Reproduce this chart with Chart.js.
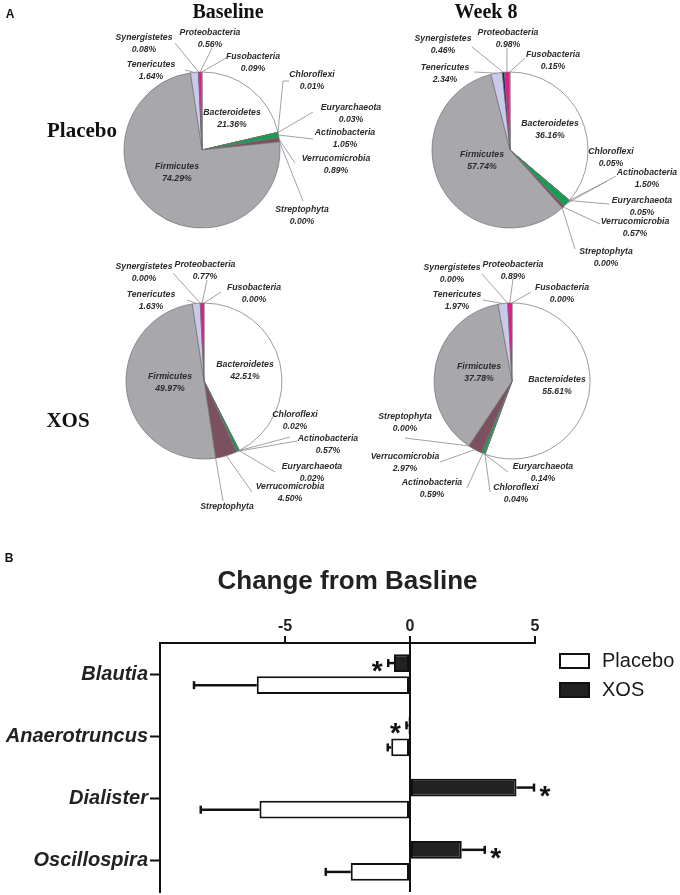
<!DOCTYPE html>
<html><head><meta charset="utf-8">
<script src="https://cdn.jsdelivr.net/npm/chart.js@4.4.1/dist/chart.umd.min.js"></script>
<style>
html,body{margin:0;padding:0;background:#fff;}
#wrap{position:relative;width:680px;height:895px;overflow:hidden;background:#fff;}
canvas{position:absolute;left:0;top:0;}
.t{position:absolute;transform:translate(-50%,-50%);line-height:1;white-space:nowrap;color:#111;}
.serif{font-family:"Liberation Serif","Times New Roman",serif;font-weight:bold;}
.sans{font-family:"Liberation Sans",Arial,sans-serif;font-weight:bold;}
</style></head><body>
<div id="wrap">
<canvas id="pb" width="680" height="895"></canvas>
<canvas id="pw" width="680" height="895"></canvas>
<canvas id="xb" width="680" height="895"></canvas>
<canvas id="xw" width="680" height="895"></canvas>
<canvas id="bar" width="680" height="895"></canvas>
<div class="t sans" style="left:10px;top:14px;font-size:12px">A</div>
<div class="t serif" style="left:228px;top:11px;font-size:20px">Baseline</div>
<div class="t serif" style="left:486px;top:11px;font-size:20px">Week 8</div>
<div class="t serif" style="left:82px;top:130px;font-size:21px">Placebo</div>
<div class="t serif" style="left:68px;top:420px;font-size:21px">XOS</div>
<div class="t sans" style="left:9px;top:558px;font-size:12px">B</div>
</div>
<script>
// ---------- data ----------
const phyla = ['Bacteroidetes','Chloroflexi','Euryarchaeota','Actinobacteria','Verrucomicrobia','Streptophyta','Firmicutes','Tenericutes','Synergistetes','Proteobacteria','Fusobacteria'];
const placeboBaseline = [21.36,0.01,0.03,1.05,0.89,0.00,74.29,1.64,0.08,0.56,0.09];
const placeboWeek8    = [36.16,0.05,0.05,1.50,0.57,0.00,57.74,2.34,0.46,0.98,0.15];
const xosBaseline     = [42.51,0.02,0.02,0.57,4.50,0.00,49.97,1.63,0.00,0.77,0.00];
const xosWeek8        = [55.61,0.04,0.14,0.59,2.97,0.00,37.78,1.97,0.00,0.89,0.00];

const genera = ['Blautia','Anaerotruncus','Dialister','Oscillospira'];
const placeboChange = [-6.13,-0.75,-6.02,-2.37];
const placeboSEM    = [2.51,0.14,2.35,1.00];
const xosChange     = [-0.64,-0.06,4.26,2.07];
const xosSEM        = [0.23,0.08,0.70,0.92];
const xosSignificant     = [true,true,true,true];
const placeboSignificant = [false,false,false,false];
const xTicks = [-5,0,5];

// ---------- styles ----------
const SANS = '"Liberation Sans", Arial, sans-serif';
Chart.defaults.font.family = SANS;
const phylumColors = ['#ffffff','#3c3c7a','#d8d070','#12a050','#7d5060','#8a4040','#a8a8ac','#c9c9ec','#1c1c5c','#e8188a','#c8b830'];

// label layout (page coordinates) per pie
const layoutPB = {
  Bacteroidetes:{x:232,y:113},
  Firmicutes:{x:177,y:167},
  Chloroflexi:{x:312,y:75,to:[[283,81],[289,81]]},
  Euryarchaeota:{x:351,y:108,to:[[313,112]]},
  Actinobacteria:{x:345,y:133,to:[[313,139]]},
  Verrucomicrobia:{x:336,y:159,to:[[295,163]]},
  Streptophyta:{x:302,y:210,to:[[303,201]]},
  Tenericutes:{x:151,y:65,to:[[185,70]]},
  Synergistetes:{x:144,y:38,to:[[175,43]]},
  Proteobacteria:{x:210,y:33,to:[[212,48]]},
  Fusobacteria:{x:253,y:57,to:[[226,58]]}
};
const layoutPW = {
  Bacteroidetes:{x:550,y:124},
  Firmicutes:{x:482,y:155},
  Synergistetes:{x:443,y:39,to:[[472,47]]},
  Proteobacteria:{x:508,y:33,to:[[507,48]]},
  Fusobacteria:{x:553,y:55,to:[[525,58]]},
  Tenericutes:{x:445,y:68,to:[[474,72]]},
  Chloroflexi:{x:611,y:152,to:[[607,181]]},
  Actinobacteria:{x:647,y:173,to:[[616,176]]},
  Euryarchaeota:{x:642,y:201,to:[[609,204]]},
  Verrucomicrobia:{x:635,y:222,to:[[600,224]]},
  Streptophyta:{x:606,y:252,to:[[575,249]]}
};
const layoutXB = {
  Bacteroidetes:{x:245,y:365},
  Firmicutes:{x:170,y:377},
  Synergistetes:{x:144,y:267,to:[[173,273]]},
  Proteobacteria:{x:205,y:265,to:[[207,280]]},
  Fusobacteria:{x:254,y:288,to:[[221,292]]},
  Tenericutes:{x:151,y:295,to:[[187,300]]},
  Chloroflexi:{x:295,y:415,to:[[290,437]]},
  Actinobacteria:{x:328,y:439,to:[[297,441]]},
  Euryarchaeota:{x:312,y:467,to:[[275,472]]},
  Verrucomicrobia:{x:290,y:487,to:[[252,492]]},
  Streptophyta:{x:227,y:507,nameOnly:true,to:[[223,501]]}
};
const layoutXW = {
  Bacteroidetes:{x:557,y:380},
  Firmicutes:{x:479,y:367},
  Synergistetes:{x:452,y:268,to:[[482,274]]},
  Proteobacteria:{x:513,y:265,to:[[513,279]]},
  Fusobacteria:{x:562,y:288,to:[[531,292]]},
  Tenericutes:{x:457,y:295,to:[[483,300]]},
  Streptophyta:{x:405,y:417,to:[[405,438]]},
  Verrucomicrobia:{x:405,y:457,to:[[440,462]]},
  Actinobacteria:{x:432,y:483,to:[[467,488]]},
  Euryarchaeota:{x:543,y:467,to:[[508,472]]},
  Chloroflexi:{x:516,y:488,to:[[490,492]]}
};

const pieLabels = {
  id:'pieLabels',
  afterDatasetsDraw(chart, args, opts){
    const ctx = chart.ctx;
    const meta = chart.getDatasetMeta(0);
    const ds = chart.data.datasets[0];
    const layout = opts.layout || {};
    ctx.save();
    meta.data.forEach((arc,i)=>{
      const name = chart.data.labels[i];
      const L = layout[name];
      if(!L) return;
      if(L.to){
        const p = arc.getProps(['x','y','startAngle','endAngle','outerRadius'], true);
        const a = (p.startAngle + p.endAngle)/2;
        ctx.beginPath();
        ctx.moveTo(p.x + Math.cos(a)*p.outerRadius, p.y + Math.sin(a)*p.outerRadius);
        L.to.forEach(q=>ctx.lineTo(q[0], q[1]));
        ctx.strokeStyle = '#8a8a8a';
        ctx.lineWidth = 0.8;
        ctx.stroke();
      }
      ctx.fillStyle = '#2b2b2b';
      ctx.font = 'italic bold 8.7px ' + SANS;
      ctx.textAlign = 'center';
      ctx.textBaseline = 'middle';
      ctx.fillText(name, L.x, L.y);
      if(!L.nameOnly) ctx.fillText(ds.data[i].toFixed(2) + '%', L.x, L.y + 11.5);
    });
    ctx.restore();
  }
};

function makePie(id, values, cx, cy, layout){
  const R = 78;
  return new Chart(document.getElementById(id), {
    type:'pie',
    data:{labels:phyla, datasets:[{data:values, backgroundColor:phylumColors, borderColor:'#707070', borderWidth:0.7}]},
    options:{
      responsive:false, animation:false, events:[], radius:R,
      layout:{padding:{left:cx-R-2, right:680-cx-R-2, top:cy-R-2, bottom:895-cy-R-2}},
      plugins:{legend:{display:false}, tooltip:{enabled:false}, pieLabels:{layout:layout}}
    },
    plugins:[pieLabels]
  });
}
makePie('pb', placeboBaseline, 202, 150, layoutPB);
makePie('pw', placeboWeek8, 510, 150, layoutPW);
makePie('xb', xosBaseline, 204, 381, layoutXB);
makePie('xw', xosWeek8, 512, 381, layoutXW);

// ---------- bar chart ----------
const errorBars = {
  id:'errorBars',
  afterDatasetsDraw(chart){
    const ctx = chart.ctx;
    const xs = chart.scales.x;
    ctx.save();
    chart.data.datasets.forEach((ds,di)=>{
      const meta = chart.getDatasetMeta(di);
      meta.data.forEach((bar,i)=>{
        const v = ds.data[i];
        const sign = v < 0 ? -1 : 1;
        const endV = v + sign*ds.err[i];
        const x0 = bar.x, x1 = xs.getPixelForValue(endV), y = bar.y;
        ctx.strokeStyle = '#111';
        ctx.lineWidth = 2.5;
        ctx.beginPath(); ctx.moveTo(x0,y); ctx.lineTo(x1,y); ctx.stroke();
        ctx.beginPath(); ctx.moveTo(x1,y-4); ctx.lineTo(x1,y+4); ctx.stroke();
        if(ds.sig[i]){
          ctx.fillStyle = '#111';
          ctx.font = 'bold 28px ' + SANS;
          ctx.textAlign = 'center';
          ctx.textBaseline = 'alphabetic';
          ctx.fillText('*', x1 + sign*11, y + 17);
        }
      });
    });
    ctx.restore();
  }
};
const boxLegend = {
  id:'boxLegend',
  afterDraw(chart){
    const ctx = chart.ctx, a = chart.chartArea;
    const items = [chart.data.datasets[1], chart.data.datasets[0]];
    ctx.save();
    items.forEach((ds,k)=>{
      const bx = a.right + 25, by = a.top + 11 + k*29;
      ctx.fillStyle = ds.backgroundColor;
      ctx.fillRect(bx, by, 29, 14);
      ctx.strokeStyle = '#111'; ctx.lineWidth = 2;
      ctx.strokeRect(bx, by, 29, 14);
      ctx.fillStyle = '#1a1a1a';
      ctx.font = '20px ' + SANS;
      ctx.textAlign = 'left'; ctx.textBaseline = 'middle';
      ctx.fillText(ds.label, bx + 42, by + 7);
    });
    ctx.restore();
  }
};

new Chart(document.getElementById('bar'), {
  type:'bar',
  data:{labels:genera, datasets:[
    {label:'XOS', data:xosChange, err:xosSEM, sig:xosSignificant, backgroundColor:'#222222', borderColor:'#111', borderWidth:2, borderSkipped:false},
    {label:'Placebo', data:placeboChange, err:placeboSEM, sig:placeboSignificant, backgroundColor:'#ffffff', borderColor:'#111', borderWidth:2, borderSkipped:false}
  ]},
  options:{
    indexAxis:'y', responsive:false, animation:false, events:[],
    categoryPercentage:0.71, barPercentage:0.8,
    layout:{padding:{left:0, right:145, top:566, bottom:3}},
    scales:{
      x:{
        position:'top', min:-10, max:5,
        afterBuildTicks:s=>{ s.ticks = [-10].concat(xTicks).map(v=>({value:v})); },
        ticks:{font:{size:16, weight:'bold'}, color:'#222', padding:0, maxRotation:0, callback:v=> v===-10 ? '' : v},
        grid:{color:c=> (c.tick && c.tick.value===0) ? '#111' : 'rgba(0,0,0,0)', lineWidth:2, tickLength:7,
              tickColor:c=> (c.tick && c.tick.value===-10) ? 'rgba(0,0,0,0)' : '#111', tickWidth:2},
        border:{display:true, color:'#111', width:2},
        afterFit:s=>{ s.height = 45.8; s.paddingLeft = 0; s.paddingRight = 0; }
      },
      y:{
        grid:{display:true, drawOnChartArea:false, offset:false, tickLength:10, tickColor:'#111', tickWidth:2},
        border:{display:true, color:'#111', width:2},
        ticks:{font:{size:20, style:'italic', weight:'bold'}, color:'#222', padding:2},
        afterFit:s=>{ s.width = 160; s.paddingTop = 0; s.paddingBottom = 0; }
      }
    },
    plugins:{
      legend:{display:false}, tooltip:{enabled:false},
      title:{display:true, text:'Change from Basline', fullSize:false, font:{size:26, weight:'bold'}, color:'#222', padding:0}
    }
  },
  plugins:[errorBars, boxLegend]
});
</script>
</body></html>
